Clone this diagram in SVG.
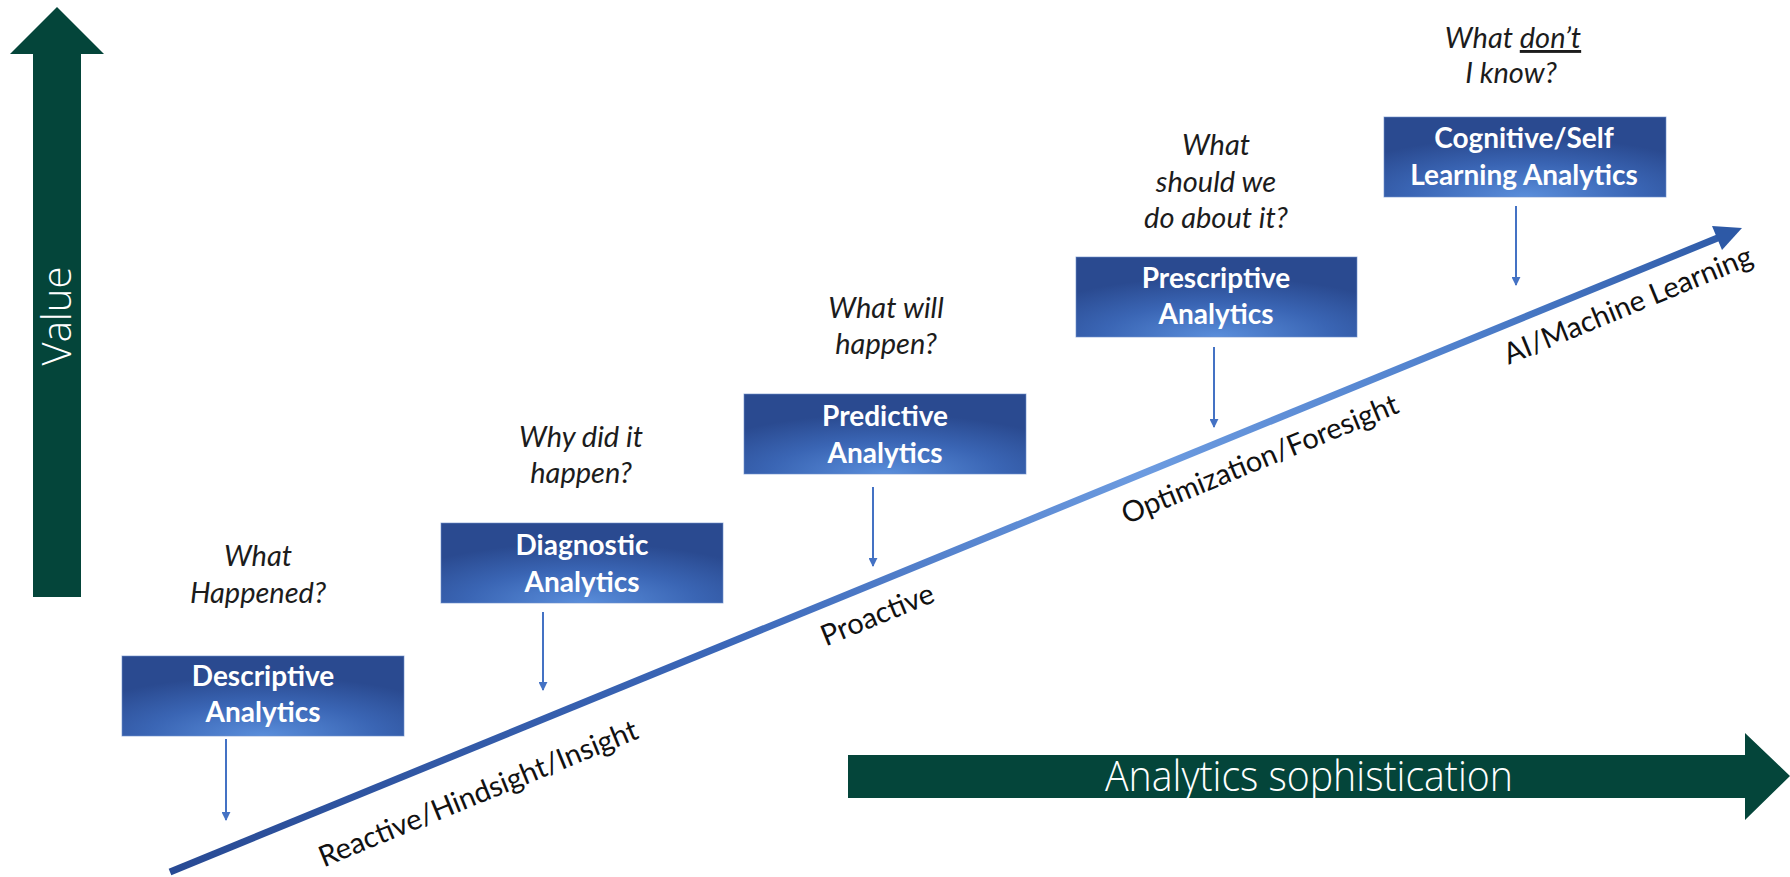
<svg xmlns="http://www.w3.org/2000/svg" width="1790" height="877" viewBox="0 0 1790 877">
  <defs>
    <radialGradient id="boxFill" cx="50%" cy="100%" r="75%" fx="50%" fy="100%">
      <stop offset="0" stop-color="#5a8edb"/>
      <stop offset="0.55" stop-color="#3a65b4"/>
      <stop offset="1" stop-color="#2a4a90"/>
    </radialGradient>
    <linearGradient id="trend" gradientUnits="userSpaceOnUse" x1="170" y1="872" x2="1742" y2="228">
      <stop offset="0" stop-color="#284a94"/>
      <stop offset="0.35" stop-color="#3b67b8"/>
      <stop offset="0.62" stop-color="#6c9be0"/>
      <stop offset="0.82" stop-color="#4f80cc"/>
      <stop offset="1" stop-color="#2d59a6"/>
    </linearGradient>
    <marker id="tip" viewBox="0 0 10 10" refX="9" refY="5" markerWidth="4.5" markerHeight="4.5" orient="auto" markerUnits="strokeWidth">
      <path d="M0,0 L10,5 L0,10 z" fill="#4472c4"/>
    </marker>
  </defs>
  <style>
    .box { fill: url(#boxFill); stroke: #6f8fcc; stroke-width: 1; stroke-opacity: 0.6; }
    .boxText { font-family: Lato, "Open Sans", sans-serif; font-weight: 700; font-size: 28px; fill: #ffffff; text-anchor: middle; }
    .question { font-family: Lato, "Open Sans", sans-serif; font-style: italic; font-size: 29px; fill: #1c1c1c; text-anchor: middle; }
    .stage { font-family: Lato, "Open Sans", sans-serif; font-size: 29px; fill: #111111; text-anchor: middle; }
    .axis { fill: #04453a; }
    .axisText { font-family: "Open Sans", sans-serif; font-weight: 300; fill: #ffffff; text-anchor: middle; }
    .drop { stroke: #4472c4; stroke-width: 2; fill: none; marker-end: url(#tip); }
  </style>

  <rect width="1790" height="877" fill="#ffffff"/>

  <!-- vertical value axis -->
  <g id="value-axis">
    <path class="axis" d="M57,7 L104,54 L81,54 L81,597 L33,597 L33,54 L10,54 Z"/>
    <text class="axisText" font-size="40" transform="translate(71,316) rotate(-90)">Value</text>
  </g>

  <!-- horizontal sophistication axis -->
  <g id="sophistication-axis">
    <path class="axis" d="M848,755 L1745,755 L1745,733 L1790,776 L1745,820 L1745,798 L848,798 Z"/>
    <text class="axisText" font-size="42" x="1309" y="791" textLength="408" lengthAdjust="spacingAndGlyphs">Analytics sophistication</text>
  </g>

  <!-- connectors: rising trend line and the drops from each stage -->
  <g id="connectors">
    <line x1="170" y1="872" x2="1720" y2="237" stroke="url(#trend)" stroke-width="7"/>
    <path d="M1742,228 L1712,226 L1722,250 Z" fill="#2d59a6"/>
    <line class="drop" x1="226" y1="739" x2="226" y2="820"/>
    <line class="drop" x1="543" y1="612" x2="543" y2="690"/>
    <line class="drop" x1="873" y1="487" x2="873" y2="566"/>
    <line class="drop" x1="1214" y1="347" x2="1214" y2="427"/>
    <line class="drop" x1="1516" y1="206" x2="1516" y2="285"/>
  </g>

  <!-- labels along the trend line -->
  <g id="trend-labels" transform="translate(170,872) rotate(-22.28)">
    <text class="stage" x="315" y="54">Reactive/Hindsight/Insight</text>
    <text class="stage" x="752" y="40" font-size="27">Proactive</text>
    <text class="stage" x="1165" y="41">Optimization/Foresight</text>
    <text class="stage" x="1564" y="38">AI/Machine Learning</text>
  </g>

  <g id="descriptive">
    <text class="question" x="258" y="566">What</text>
    <text class="question" x="258" y="603">Happened?</text>
    <rect class="box" x="122" y="656" width="282" height="80"/>
    <text class="boxText" x="263" y="686">Descriptive</text>
    <text class="boxText" x="263" y="722">Analytics</text>
  </g>

  <g id="diagnostic">
    <text class="question" x="581" y="447">Why did it</text>
    <text class="question" x="581" y="483">happen?</text>
    <rect class="box" x="441" y="523" width="282" height="80"/>
    <text class="boxText" x="582" y="555">Diagnostic</text>
    <text class="boxText" x="582" y="592">Analytics</text>
  </g>

  <g id="predictive">
    <text class="question" x="886" y="318">What will</text>
    <text class="question" x="886" y="354">happen?</text>
    <rect class="box" x="744" y="394" width="282" height="80"/>
    <text class="boxText" x="885" y="426">Predictive</text>
    <text class="boxText" x="885" y="463">Analytics</text>
  </g>

  <g id="prescriptive">
    <text class="question" x="1216" y="155">What</text>
    <text class="question" x="1216" y="192">should we</text>
    <text class="question" x="1216" y="228">do about it?</text>
    <rect class="box" x="1076" y="257" width="281" height="80"/>
    <text class="boxText" x="1216" y="288">Prescriptive</text>
    <text class="boxText" x="1216" y="324">Analytics</text>
  </g>

  <g id="cognitive">
    <text class="question" x="1513" y="48">What <tspan text-decoration="underline">don’t</tspan></text>
    <text class="question" x="1511" y="83">I know?</text>
    <rect class="box" x="1384" y="117" width="282" height="80"/>
    <text class="boxText" x="1524" y="148">Cognitive/Self</text>
    <text class="boxText" x="1524" y="185">Learning Analytics</text>
  </g>
</svg>
